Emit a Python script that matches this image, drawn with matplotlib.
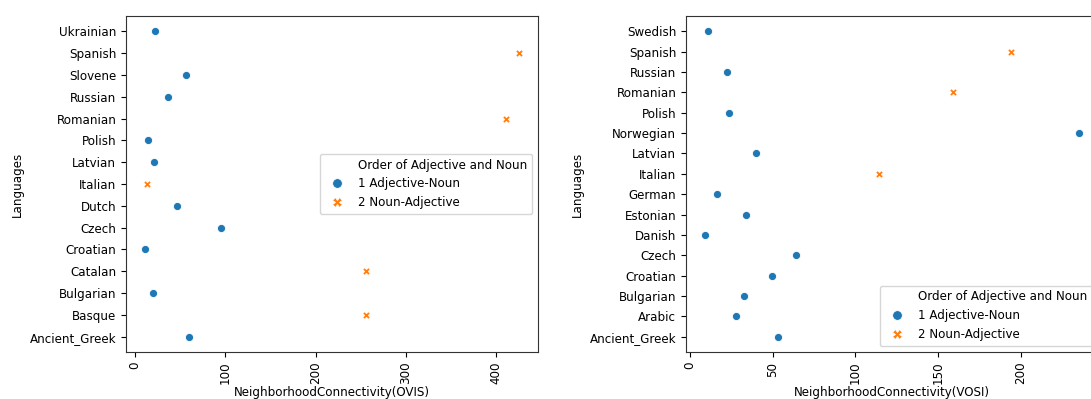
import numpy as np
import matplotlib.pyplot as plt
from matplotlib.lines import Line2D

plt.rcParams['font.size'] = 8.6

# OVIS panel, bottom to top
ovis_langs = ['Ancient_Greek', 'Basque', 'Bulgarian', 'Catalan', 'Croatian', 'Czech',
              'Dutch', 'Italian', 'Latvian', 'Polish', 'Romanian', 'Russian',
              'Slovene', 'Spanish', 'Ukrainian']
ovis_vals = [59.7, 255.6, 20.0, 255.6, 10.8, 94.7, 46.6, 13.5, 20.8, 14.2, 411.0,
             37.0, 56.2, 425.4, 22.7]
ovis_order = [1, 2, 1, 2, 1, 1, 1, 2, 1, 1, 2, 1, 1, 2, 1]

# VOSI panel, bottom to top
vosi_langs = ['Ancient_Greek', 'Arabic', 'Bulgarian', 'Croatian', 'Czech', 'Danish',
              'Estonian', 'German', 'Italian', 'Latvian', 'Norwegian', 'Polish',
              'Romanian', 'Russian', 'Spanish', 'Swedish']
vosi_vals = [53.0, 27.6, 33.0, 49.5, 64.2, 9.0, 34.0, 16.6, 114.0, 40.2, 235.3,
             23.8, 159.0, 22.5, 194.0, 10.9]
vosi_order = [1, 1, 1, 1, 1, 1, 1, 1, 2, 1, 1, 1, 2, 1, 2, 1]

order_names = {1: '1 Adjective-Noun', 2: '2 Noun-Adjective'}
order_style = {1: ('o', '#1f77b4', 34), 2: ('X', '#ff7f0e', 30)}
legend_title = 'Order of Adjective and Noun'


def draw(ax, langs, vals, order, xlabel, loc):
    y = np.arange(len(langs))
    vals = np.array(vals)
    order = np.array(order)
    for k in (1, 2):
        m, c, s = order_style[k]
        sel = order == k
        ax.scatter(vals[sel], y[sel], marker=m, color=c, s=s,
                   edgecolors='white', linewidths=0.6, zorder=3)
    ax.set_yticks(y)
    ax.set_yticklabels(langs)
    ax.set_ylim(-0.05 * (len(langs) - 1), (len(langs) - 1) * 1.05)
    ax.set_xlabel(xlabel, labelpad=1)
    ax.set_ylabel('Languages')
    ax.tick_params(axis='x', labelrotation=90)
    for sp in ax.spines.values():
        sp.set_color('#333333')
    handles = [Line2D([], [], linestyle='', marker='', label=legend_title)]
    for k in (1, 2):
        m, c, s = order_style[k]
        handles.append(Line2D([], [], linestyle='', marker=m, color=c,
                              markeredgecolor='white', markeredgewidth=0.6,
                              markersize=7, label=order_names[k]))
    ax.legend(handles=handles, loc=loc)


fig = plt.figure(figsize=(10.91, 3.99), dpi=100)
ax1 = fig.add_axes([126 / 1091, 47 / 399, 412 / 1091, 336 / 399])
ax2 = fig.add_axes([686 / 1091, 47 / 399, 412 / 1091, 336 / 399])

draw(ax1, ovis_langs, ovis_vals, ovis_order, 'NeighborhoodConnectivity(OVIS)', 'center right')
draw(ax2, vosi_langs, vosi_vals, vosi_order, 'NeighborhoodConnectivity(VOSI)', 'lower right')
ax1.set_xticks([0, 100, 200, 300, 400])
ax2.set_xticks([0, 50, 100, 150, 200])

fig.savefig('out.png', dpi=100)
